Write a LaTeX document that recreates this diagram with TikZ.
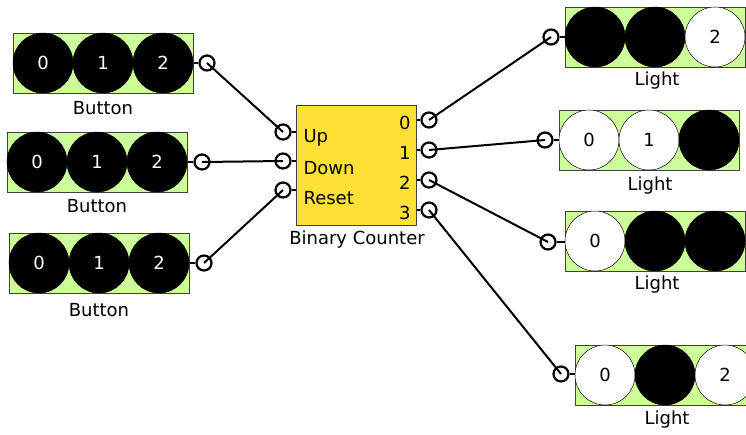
\documentclass[tikz,border=0pt]{standalone}
\usepackage{fontspec}
\setmainfont{DejaVu Sans}
\usepackage{xcolor}
\usepackage{tikz}
\usetikzlibrary{positioning,calc}

\definecolor{panelgreen}{RGB}{204,255,153}
\definecolor{counteryellow}{RGB}{255,225,53}

\begin{document}
\begin{tikzpicture}[x=1pt, y=-1pt,
  every node/.style={font=\fontsize{18}{20}\selectfont},
  panel/.style={draw=black!75, line width=1pt, fill=panelgreen, minimum width=180pt, minimum height=60pt, inner sep=0pt},
  lampoff/.style={circle, draw, line width=0.5pt, fill=black, text=white, minimum size=60pt, inner sep=0pt},
  lampon/.style={circle, draw, line width=0.5pt, fill=white, text=black, minimum size=60pt, inner sep=0pt},
  port/.style={circle, draw, line width=2.2pt, minimum size=15pt, inner sep=0pt},
  wire/.style={line width=2pt}]
  \useasboundingbox (0,0) rectangle (746,434);

  % Buttons (left)
  \node[panel] (btn1) at (103,63) {};
  \node[lampoff] at (43,63) {0}; \node[lampoff] at (103,63) {1}; \node[lampoff] at (163,63) {2};
  \node (btn1lbl) at (103,108) {Button};
  \node[panel] (btn2) at (97,162) {};
  \node[lampoff] at (37,162) {0}; \node[lampoff] at (97,162) {1}; \node[lampoff] at (157,162) {2};
  \node (btn2lbl) at (97,206) {Button};
  \node[panel] (btn3) at (99,263) {};
  \node[lampoff] at (39,263) {0}; \node[lampoff] at (99,263) {1}; \node[lampoff] at (159,263) {2};
  \node (btn3lbl) at (99,310) {Button};

  % Binary counter (middle)
  \node[draw=black!75, line width=1pt, fill=counteryellow, minimum width=120pt, minimum height=120pt] (cnt) at (356,165) {};
  \node (cntlbl) at (357,240) {Binary Counter};
  \node[anchor=west] at (300,138) {Up};
  \node[anchor=west] at (300,168) {Down};
  \node[anchor=west] at (300,198) {Reset};
  \node[anchor=east] at (414,123) {0};
  \node[anchor=east] at (414,153) {1};
  \node[anchor=east] at (414,183) {2};
  \node[anchor=east] at (414,213) {3};

  % Lights (right)
  \node[panel] (lt1) at (655,37) {};
  \node[lampoff] at (595,37) {}; \node[lampoff] at (655,37) {}; \node[lampon] at (715,37) {2};
  \node (lt1lbl) at (657,81) {Light};
  \node[panel] (lt2) at (649,140) {};
  \node[lampon] at (589,140) {0}; \node[lampon] at (649,140) {1}; \node[lampoff] at (709,140) {};
  \node (lt2lbl) at (650,186) {Light};
  \node[panel] (lt3) at (655,241) {};
  \node[lampon] at (595,241) {0}; \node[lampoff] at (655,241) {}; \node[lampoff] at (715,241) {};
  \node (lt3lbl) at (657,285) {Light};
  \node[panel] (lt4) at (665,375) {};
  \node[lampon] at (605,375) {0}; \node[lampoff] at (665,375) {}; \node[lampon] at (725,375) {2};
  \node (lt4lbl) at (667,420) {Light};

  % Ports
  \node[port] (btn1out) at (207,63) {};
  \node[port] (btn2out) at (202,162) {};
  \node[port] (btn3out) at (204,263) {};
  \node[port] (cntup) at (283,132) {};
  \node[port] (cntdown) at (283,161) {};
  \node[port] (cntreset) at (283,190) {};
  \node[port] (cnt0) at (429,120) {};
  \node[port] (cnt1) at (429,150) {};
  \node[port] (cnt2) at (429,180) {};
  \node[port] (cnt3) at (429,210) {};
  \node[port] (lt1in) at (551,37) {};
  \node[port] (lt2in) at (545,140) {};
  \node[port] (lt3in) at (548,242) {};
  \node[port] (lt4in) at (561,374) {};

  % Stubs
  \draw[wire] (btn1.east) -- (btn1out.west);
  \draw[wire] (btn2.east) -- (btn2out.west);
  \draw[wire] (btn3.east) -- (btn3out.west);
  \draw[wire] (cntup.east) -- (cntup.east -| cnt.west);
  \draw[wire] (cntdown.east) -- (cntdown.east -| cnt.west);
  \draw[wire] (cntreset.east) -- (cntreset.east -| cnt.west);
  \draw[wire] (cnt0.west -| cnt.east) -- (cnt0.west);
  \draw[wire] (cnt1.west -| cnt.east) -- (cnt1.west);
  \draw[wire] (cnt2.west -| cnt.east) -- (cnt2.west);
  \draw[wire] (cnt3.west -| cnt.east) -- (cnt3.west);
  \draw[wire] (lt1in.east) -- (lt1in.east -| lt1.west);
  \draw[wire] (lt2in.east) -- (lt2in.east -| lt2.west);
  \draw[wire] (lt3in.east) -- (lt3in.east -| lt3.west);
  \draw[wire] (lt4in.east) -- (lt4in.east -| lt4.west);

  % Wires
  \draw[wire] (btn1out.center) -- (cntup.center);
  \draw[wire] (btn2out.center) -- (cntdown.center);
  \draw[wire] (btn3out.center) -- (cntreset.center);
  \draw[wire] (cnt0.center) -- (lt1in.center);
  \draw[wire] (cnt1.center) -- (lt2in.center);
  \draw[wire] (cnt2.center) -- (lt3in.center);
  \draw[wire] (cnt3.center) -- (lt4in.center);
\end{tikzpicture}
\end{document}
